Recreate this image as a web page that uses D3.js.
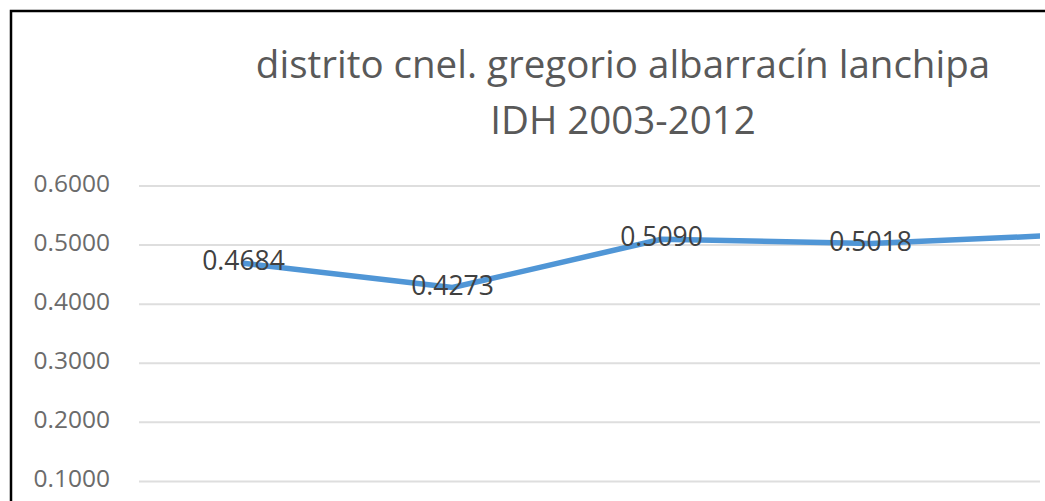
<!DOCTYPE html>
<html>
<head>
<meta charset="utf-8">
<script src="https://cdnjs.cloudflare.com/ajax/libs/d3/7.8.5/d3.min.js"></script>
<style>
  html, body { margin: 0; padding: 0; background: #fff; overflow: hidden; }
  #chart { width: 1045px; height: 501px; overflow: hidden; }
</style>
</head>
<body>
<div id="chart"></div>
<script>
// IDH by year (the last year is outside the visible crop)
const years = ['2003', '2007', '2010', '2011', '2012'];
const idh = [0.4684, 0.4273, 0.5090, 0.5018, 0.5173];
const yTicks = [0.1, 0.2, 0.3, 0.4, 0.5, 0.6];
const titleLines = ['distrito cnel. gregorio albarracín lanchipa', 'IDH 2003-2012'];

const svg = d3.select('#chart')
    .append('svg')
    .attr('width', 1045)
    .attr('height', 501);

// the chart frame runs past the right and bottom edges of the picture
svg.append('rect')
    .attr('x', 11)
    .attr('y', 11)
    .attr('width', 1300)
    .attr('height', 700)
    .attr('fill', '#fff')
    .attr('stroke', '#000')
    .attr('stroke-width', 2.5);

const plot = {left: 139, right: 139 + 209 * years.length, top: 185.5, bottom: 540};
const cropRight = 1040;

const x = d3.scaleBand()
    .domain(years)
    .range([plot.left, plot.right]);

const y = d3.scaleLinear()
    .domain([0, 0.6])
    .range([plot.bottom, plot.top]);

const cx = (d, i) => x(years[i]) + x.bandwidth() / 2;

// crop of the plot area
svg.append('clipPath')
    .attr('id', 'crop')
    .append('rect')
    .attr('x', plot.left - 2)
    .attr('y', 0)
    .attr('width', cropRight - plot.left + 2)
    .attr('height', 501);

const plotG = svg.append('g').attr('clip-path', 'url(#crop)');

// gridlines
plotG.append('g')
    .attr('transform', `translate(${plot.left}, 0)`)
    .call(d3.axisLeft(y)
        .tickValues(yTicks)
        .tickSize(-(plot.right - plot.left))
        .tickFormat(''))
    .call(g => g.select('.domain').remove())
    .call(g => g.selectAll('line')
        .attr('stroke', '#dedede')
        .attr('stroke-width', 2));

// tick labels
svg.append('g')
    .selectAll('text')
    .data(yTicks)
    .join('text')
    .attr('x', 110)
    .attr('y', d => y(d))
    .attr('text-anchor', 'end')
    .attr('dominant-baseline', 'middle')
    .style('font-family', '"Open Sans", sans-serif')
    .style('font-size', '24.5px')
    .style('fill', '#6b6b6b')
    .text(d => d.toFixed(4));

// line
const line = d3.line()
    .x(cx)
    .y(d => y(d));

plotG.append('path')
    .datum(idh)
    .attr('d', line)
    .attr('fill', 'none')
    .attr('stroke', '#5096D6')
    .attr('stroke-width', 5.5)
    .attr('stroke-linejoin', 'round')
    .attr('stroke-linecap', 'round');

// data labels, centred on the points (only those inside the crop)
const labelled = idh.map((v, i) => ({v, i})).filter(d => cx(d.v, d.i) < cropRight - 60);

plotG.append('g')
    .selectAll('text')
    .data(labelled)
    .join('text')
    .attr('x', d => cx(d.v, d.i))
    .attr('y', d => y(d.v))
    .attr('text-anchor', 'middle')
    .attr('dominant-baseline', 'middle')
    .style('font-family', '"Open Sans", sans-serif')
    .style('font-size', '26.5px')
    .style('fill', '#404040')
    .text(d => d.v.toFixed(4));

// title
svg.append('g')
    .selectAll('text')
    .data(titleLines)
    .join('text')
    .attr('x', 623)
    .attr('y', (d, i) => 78 + i * 56)
    .attr('text-anchor', 'middle')
    .style('font-family', '"Open Sans", sans-serif')
    .style('font-size', '38.5px')
    .style('fill', '#595959')
    .text(d => d);
</script>
</body>
</html>
